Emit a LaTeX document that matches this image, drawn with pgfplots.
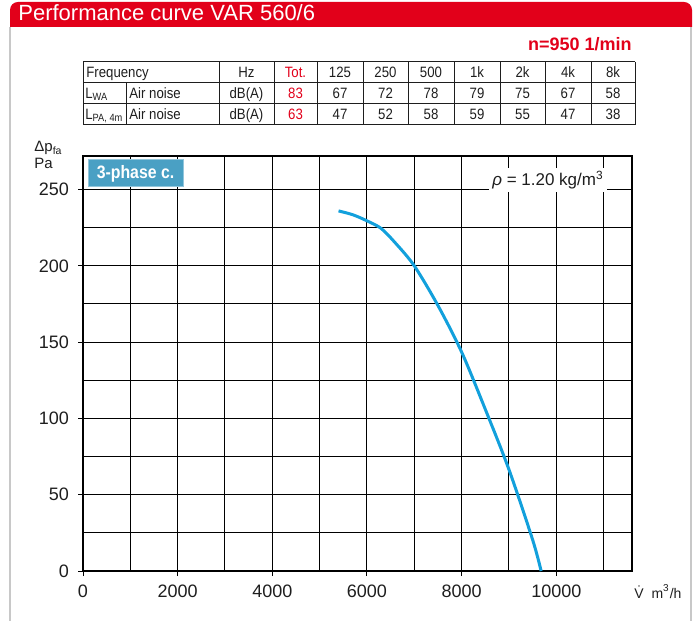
\documentclass[border=0pt]{standalone}
\usepackage{pgfplots}
\pgfplotsset{compat=1.18}
\usepackage{fontspec}
\setmainfont{Liberation Sans}
\newfontfamily\narrowfont[FakeStretch=0.88]{Liberation Sans}
\definecolor{ebmred}{HTML}{E2001A}
\definecolor{curveblue}{HTML}{12A0DC}
\definecolor{boxblue}{HTML}{4AA0C4}
\definecolor{framegray}{HTML}{C8C8C8}
\definecolor{txt}{HTML}{1E1E1E}
\begin{document}
\begin{tikzpicture}[x=0.5pt,y=0.5pt]
\useasboundingbox (0,0) rectangle (695,621);
% panel frame
\draw[framegray, line width=0.7pt] (10,594) -- (10,0);
\draw[framegray, line width=0.7pt] (691,594) -- (691,0);
\fill[ebmred] (10,594) [rounded corners=4pt] -- (10,619) -- (692,619) [sharp corners] -- (692,594) -- cycle;
\node[anchor=base west, text=white, inner sep=0pt, font=\fontsize{11}{13}\selectfont] at (18,600) {Performance curve VAR 560/6};
\node[anchor=base east, text=ebmred, inner sep=0pt, font=\fontsize{9}{11}\selectfont\bfseries] at (632,570) {n=950 1/min};
% table
\begin{scope}[txt, line width=0.5pt]
\foreach \yy in {559,538,517,496} \draw (83,\yy) -- (635,\yy);
\foreach \xx in {83,219,274,317,363,408,454,500,545,591,635} \draw (\xx,559) -- (\xx,496);
\draw (126,538) -- (126,496);
\end{scope}
\begin{scope}[every node/.style={anchor=base, inner sep=0pt, text=txt, font=\narrowfont\fontsize{7.5}{9}\selectfont}]
\node[anchor=base west] at (86,543.5) {Frequency};
\node at (246.5,543.5) {Hz};
\node[text=ebmred] at (295.5,543.5) {Tot.};
\node at (340,543.5) {125};
\node at (385.5,543.5) {250};
\node at (431,543.5) {500};
\node at (477,543.5) {1k};
\node at (522.5,543.5) {2k};
\node at (568,543.5) {4k};
\node at (613,543.5) {8k};
%
\node[anchor=base west] at (85,522.5) {L\textsubscript{WA}};
\node[anchor=base west] at (129,522.5) {Air noise};
\node at (246.5,522.5) {dB(A)};
\node[text=ebmred] at (295.5,522.5) {83};
\node at (340,522.5) {67};
\node at (385.5,522.5) {72};
\node at (431,522.5) {78};
\node at (477,522.5) {79};
\node at (522.5,522.5) {75};
\node at (568,522.5) {67};
\node at (613,522.5) {58};
%
\node[anchor=base west] at (85,501.5) {L\textsubscript{PA, 4m}};
\node[anchor=base west] at (129,501.5) {Air noise};
\node at (246.5,501.5) {dB(A)};
\node[text=ebmred] at (295.5,501.5) {63};
\node at (340,501.5) {47};
\node at (385.5,501.5) {52};
\node at (431,501.5) {58};
\node at (477,501.5) {59};
\node at (522.5,501.5) {55};
\node at (568,501.5) {47};
\node at (613,501.5) {38};
\end{scope}
% axis
\begin{axis}[at={(41.5pt,25pt)}, anchor=south west, scale only axis,
  width=274.5pt, height=207.5pt,
  xmin=0, xmax=11600, ymin=0, ymax=272,
  xtick={0,2000,...,10000}, minor xtick={1000,3000,...,11000},
  ytick={0,50,...,250}, minor ytick={25,75,...,225},
  grid=both,
  major grid style={black, line width=0.5pt},
  minor grid style={black, line width=0.5pt},
  tick align=outside, tick pos=left,
  major tick length=2.5pt, minor tick length=0pt,
  tick style={black, line width=0.5pt},
  axis line style={black, line width=1pt},
  ticklabel style={font=\fontsize{9}{10}\selectfont, text=txt},
  /pgf/number format/assume math mode=true,
  scaled ticks=false,
  /pgf/number format/1000 sep={},
  xticklabel style={yshift=-1pt},
  yticklabel style={xshift=-1pt},
  clip=true]
\addplot[curveblue, line width=1.5pt, smooth] coordinates {
 (5400,236) (5700,233.5) (6000,229.5) (6300,224.5) (6600,215)
 (7000,200) (7500,174) (8000,143.5) (8500,106) (9000,66.5)
 (9500,20.5) (9680,0)
};
\end{axis}
% labels
\node[anchor=base west, inner sep=0pt, text=txt, font=\fontsize{7.5}{8}\selectfont] at (34,469) {Δp\textsubscript{fa}};
\node[anchor=base west, inner sep=0pt, text=txt, font=\fontsize{7.5}{8}\selectfont] at (34,452) {Pa};
\node[anchor=base west, inner sep=0pt, text=txt, font=\fontsize{7}{8}\selectfont] at (634,23) {\.{V}\ \ m\textsuperscript{3}/h};
% 3-phase box
\node[fill=boxblue, draw=boxblue!60!white, line width=0.5pt, text=white, minimum width=47.5pt, minimum height=13.5pt, inner sep=0pt, font=\narrowfont\fontsize{9}{10}\selectfont\bfseries] at (135.5,447.5) {3-phase c.};
% density label
\node[fill=white, inner sep=1.5pt, text=txt, font=\fontsize{8.5}{10}\selectfont] at (548,441) {\textit{ρ} = 1.20 kg/m\textsuperscript{3}};
\end{tikzpicture}
\end{document}
